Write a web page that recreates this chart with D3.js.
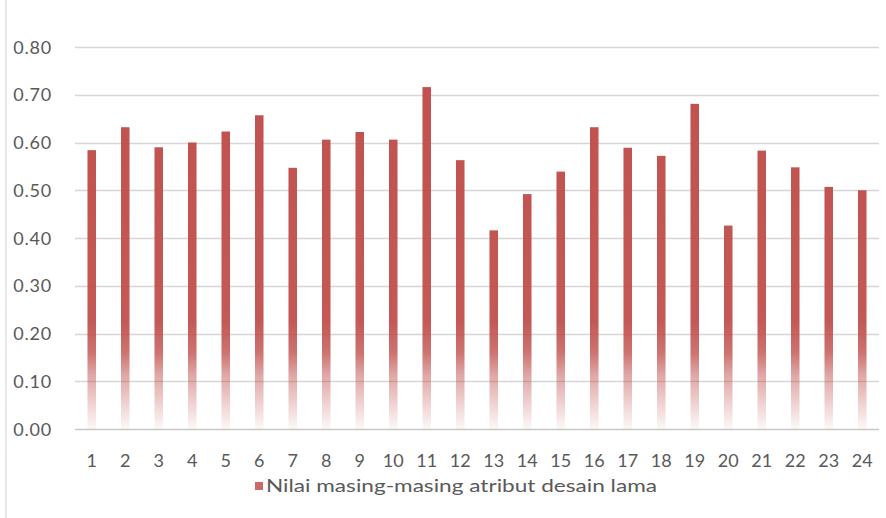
<!DOCTYPE html>
<html>
<head>
<meta charset="utf-8">
<script src="https://cdn.jsdelivr.net/npm/d3@7"></script>
<style>
  html, body { margin: 0; padding: 0; background: #fff; }
  svg { display: block; }
  text { font-family: Lato, "Open Sans", sans-serif; fill: #595959; }
</style>
</head>
<body>
<svg id="chart" width="886" height="518"></svg>
<script>
const categories = ["1","2","3","4","5","6","7","8","9","10","11","12","13","14","15","16","17","18","19","20","21","22","23","24"];
const values = [0.584, 0.632, 0.590, 0.600, 0.623, 0.657, 0.547, 0.606, 0.622, 0.606, 0.716, 0.563, 0.416, 0.492, 0.539, 0.632, 0.589, 0.572, 0.681, 0.426, 0.583, 0.548, 0.507, 0.500];
const yTicks = [0, 0.1, 0.2, 0.3, 0.4, 0.5, 0.6, 0.7, 0.8];
const seriesName = "Nilai masing-masing atribut desain lama";

const svg = d3.select("#chart");
const W = 886, H = 518;
const plotLeft = 75, plotRight = 879, plotTop = 47, plotBottom = 429;

const x = d3.scaleBand().domain(categories).range([plotLeft, plotRight]).paddingInner(0.745).paddingOuter(0.3725);
const y = d3.scaleLinear().domain([0, 0.8]).range([plotBottom, plotTop]);

// faint page edge line
svg.append("line").attr("x1", 6).attr("x2", 6).attr("y1", 0).attr("y2", H)
  .attr("stroke", "#e2e2e2").attr("stroke-width", 1.5);

// gradient for bars (fixed in page space)
const defs = svg.append("defs");
const grad = defs.append("linearGradient").attr("id", "barGrad")
  .attr("gradientUnits", "userSpaceOnUse")
  .attr("x1", 0).attr("x2", 0).attr("y1", y(0.8)).attr("y2", y(0));
[[0, 1], [0.72, 0.95], [0.8, 0.8], [0.86, 0.5], [1, 0.04]].forEach(([o, a]) => {
  grad.append("stop").attr("offset", o).attr("stop-color", "#c0504d").attr("stop-opacity", a);
});

// gridlines
svg.append("g").selectAll("line").data(yTicks).join("line")
  .attr("x1", plotLeft).attr("x2", plotRight)
  .attr("y1", d => Math.round(y(d)) + 0.5).attr("y2", d => Math.round(y(d)) + 0.5)
  .attr("stroke", d => d === 0 ? "#c8c8c8" : "#d6d6d6")
  .attr("stroke-width", 1.3);

// y axis labels
const yAxis = d3.axisLeft(y).tickValues(yTicks).tickFormat(d3.format(".2f")).tickSize(0).tickPadding(0);
const ya = svg.append("g").attr("transform", "translate(52,0)").call(yAxis);
ya.select(".domain").remove();
ya.selectAll("text").attr("font-size", 18).attr("fill", "#595959")
  .style("font-family", "Lato, 'Open Sans', sans-serif").attr("dy", "0.34em").attr("letter-spacing", 0.8);

// bars
svg.append("g").selectAll("rect").data(values).join("rect")
  .attr("x", (d, i) => x(categories[i]))
  .attr("width", x.bandwidth())
  .attr("y", d => y(d))
  .attr("height", d => y(0) - y(d))
  .attr("fill", "url(#barGrad)");

// x axis labels
const xAxis = d3.axisBottom(x).tickSize(0).tickPadding(0);
const xa = svg.append("g").attr("transform", `translate(0,${plotBottom})`).call(xAxis);
xa.select(".domain").remove();
xa.selectAll("text").attr("font-size", 18).attr("fill", "#595959")
  .style("font-family", "Lato, 'Open Sans', sans-serif").attr("y", 38).attr("dy", 0);

// legend
svg.append("rect").attr("x", 255).attr("y", 482).attr("width", 8).attr("height", 8).attr("fill", "#c0504d").attr("opacity", 0.85);
svg.append("text").attr("x", 266).attr("y", 492).attr("font-size", 17)
  .attr("textLength", 391).attr("lengthAdjust", "spacingAndGlyphs")
  .text(seriesName);
</script>
</body>
</html>
